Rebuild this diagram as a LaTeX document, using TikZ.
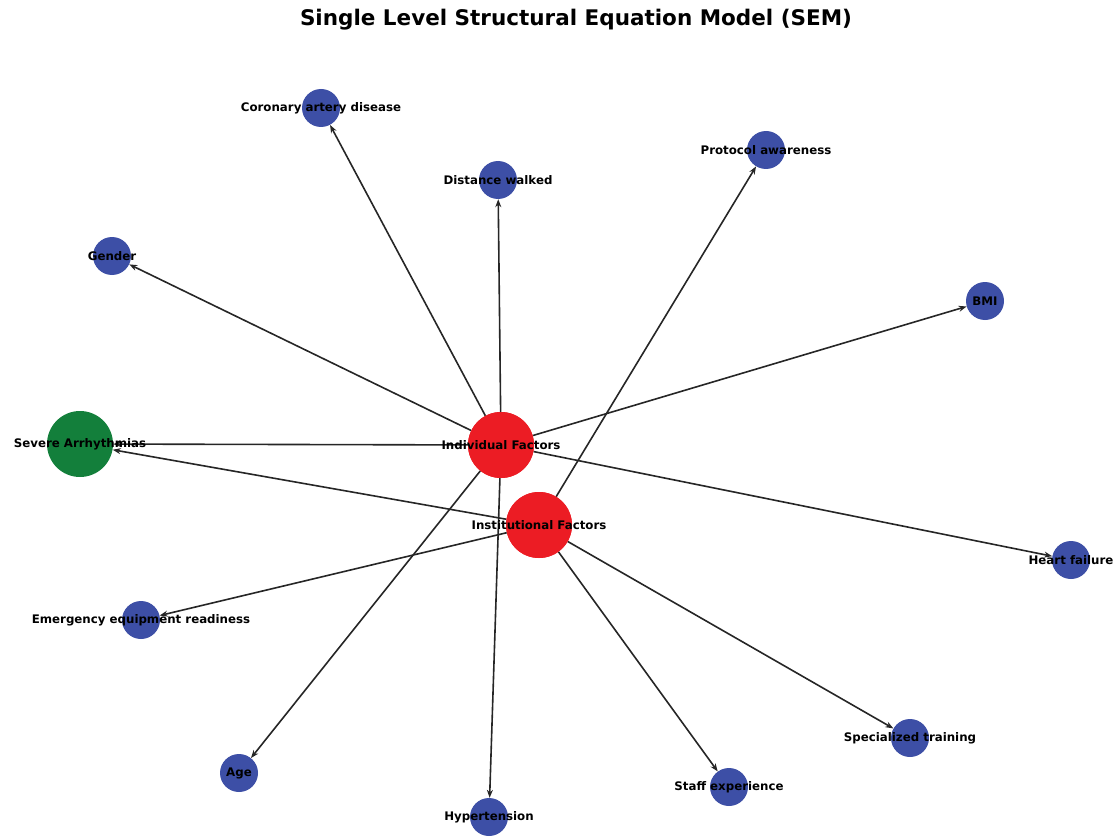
\documentclass[tikz,border=0pt]{standalone}
\usepackage{fontspec}
\setmainfont{DejaVu Sans}
\usetikzlibrary{arrows.meta}
\definecolor{nblue}{HTML}{3D4FA6}
\definecolor{nred}{HTML}{EC1C24}
\definecolor{ngreen}{HTML}{137F3B}
\tikzset{
  small/.style={circle, fill=nblue, minimum size=38pt, inner sep=0pt},
  big/.style={circle, fill=nred, minimum size=66pt, inner sep=0pt},
  dep/.style={circle, fill=ngreen, minimum size=66pt, inner sep=0pt},
  lab/.style={font=\bfseries\fontsize{11.8}{14}\selectfont, text=black, inner sep=0pt},
  edge/.style={draw=black!85, line width=1.6pt, -{Stealth[length=8pt,width=6pt]}}
}
\begin{document}
\begin{tikzpicture}[x=1pt,y=-1pt]
\useasboundingbox (0,0) rectangle (1118,837);
\node[font=\bfseries\fontsize{21.5}{25}\selectfont] (title) at (576,20) {Single Level Structural Equation Model (SEM)};
% circles
\node[big] (ind) at (501,445) {};
\node[big] (ins) at (539,525) {};
\node[dep] (sa) at (80,444) {};
\node[small] (cad) at (321,108) {};
\node[small] (dw) at (498,180) {};
\node[small] (pa) at (766,150) {};
\node[small] (gen) at (112,256) {};
\node[small] (bmi) at (985,301) {};
\node[small] (hf) at (1071,560) {};
\node[small] (eer) at (141,620) {};
\node[small] (age) at (239,773) {};
\node[small] (hyp) at (489,817) {};
\node[small] (se) at (729,787) {};
\node[small] (st) at (910,738) {};
% edges
\draw[edge] (ind) -- (cad);
\draw[edge] (ind) -- (dw);
\draw[edge] (ind) -- (gen);
\draw[edge] (ind) -- (bmi);
\draw[edge] (ind) -- (sa);
\draw[edge] (ind) -- (hf);
\draw[edge] (ind) -- (age);
\draw[edge] (ind) -- (hyp);
\draw[edge] (ins) -- (pa);
\draw[edge] (ins) -- (sa);
\draw[edge] (ins) -- (eer);
\draw[edge] (ins) -- (se);
\draw[edge] (ins) -- (st);
% redraw circles over lines
\node[big] at (ind) {};
\node[big] at (ins) {};
% labels
\node[lab] (l1) at (ind) {Individual Factors};
\node[lab] (l2) at (ins) {Institutional Factors};
\node[lab] (l3) at (sa) {Severe Arrhythmias};
\node[lab] (l4) at (cad) {Coronary artery disease};
\node[lab] (l5) at (dw) {Distance walked};
\node[lab] (l6) at (pa) {Protocol awareness};
\node[lab] (l7) at (gen) {Gender};
\node[lab] (l8) at (bmi) {BMI};
\node[lab] (l9) at (hf) {Heart failure};
\node[lab] (l10) at (eer) {Emergency equipment readiness};
\node[lab] (l11) at (age) {Age};
\node[lab] (l12) at (hyp) {Hypertension};
\node[lab] (l13) at (se) {Staff experience};
\node[lab] (l14) at (st) {Specialized training};
\end{tikzpicture}
\end{document}
